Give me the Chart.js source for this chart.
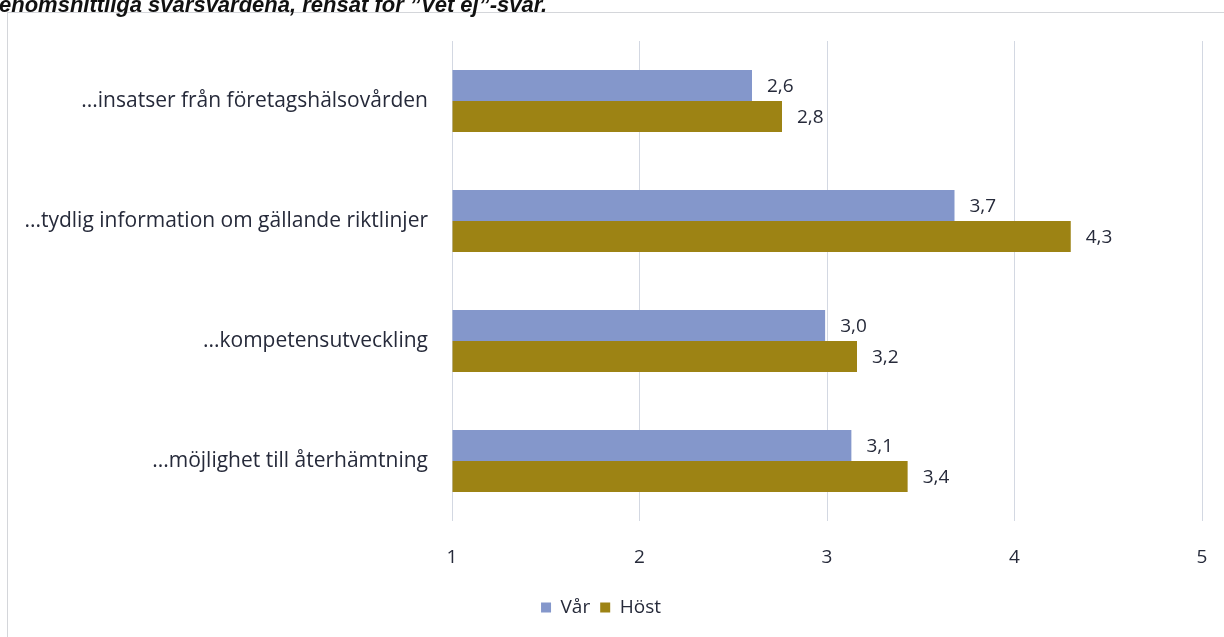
<!DOCTYPE html>
<html>
<head>
<meta charset="utf-8">
<script src="https://cdn.jsdelivr.net/npm/chart.js@4.4.1/dist/chart.umd.min.js"></script>
<style>
  html, body { margin: 0; padding: 0; background: #ffffff; }
  #wrap { position: relative; width: 1224px; height: 637px; overflow: hidden; }
</style>
</head>
<body>
<div id="wrap"><canvas id="chart" width="1224" height="637"></canvas></div>
<script>
// ========== DATA ==========
var categories = [
  "...insatser från företagshälsovården",
  "...tydlig information om gällande riktlinjer",
  "...kompetensutveckling",
  "...möjlighet till återhämtning"
];
var seriesNames = ["Vår", "Höst"];
var varValues = [2.6, 3.68, 2.99, 3.13];
var hostValues = [2.76, 4.3, 3.16, 3.43];
var xTicks = [1, 2, 3, 4, 5];
var titleText = "enomsnittliga svarsvärdena, rensat för ”Vet ej”-svar.";

var textColor = "#262a3a";
var fontFamily = "'Open Sans', Lato, sans-serif";

// ========== PLUGINS ==========
var framePlugin = {
  id: "frame",
  beforeDraw: function (chart) {
    var ctx = chart.ctx;
    ctx.save();
    ctx.fillStyle = "#ffffff";
    ctx.fillRect(0, 0, chart.width, chart.height);
    ctx.strokeStyle = "#d4d6da";
    ctx.lineWidth = 1;
    ctx.strokeRect(7.5, 12.5, 1400, 700);
    // cropped heading above the frame
    ctx.fillStyle = "#111111";
    ctx.font = "italic bold 22px 'Liberation Sans', Arial, sans-serif";
    ctx.textBaseline = "alphabetic";
    ctx.fillText(titleText, -1, 12);
    ctx.restore();
  }
};

var valueLabels = {
  id: "valueLabels",
  afterDatasetsDraw: function (chart) {
    var ctx = chart.ctx;
    ctx.save();
    ctx.font = "19px " + fontFamily;
    ctx.fillStyle = textColor;
    ctx.textAlign = "left";
    ctx.textBaseline = "middle";
    chart.data.datasets.forEach(function (ds, i) {
      chart.getDatasetMeta(i).data.forEach(function (bar, j) {
        var txt = ds.data[j].toFixed(1).replace(".", ",");
        ctx.fillText(txt, bar.x + 15, bar.y + 1);
      });
    });
    ctx.restore();
  }
};

// ========== CHART ==========
new Chart(document.getElementById("chart"), {
  type: "bar",
  data: {
    labels: categories,
    datasets: [
      {
        label: seriesNames[0],
        data: varValues,
        backgroundColor: "#8497cb",
        barPercentage: 1,
        categoryPercentage: 0.515,
        base: 1
      },
      {
        label: seriesNames[1],
        data: hostValues,
        backgroundColor: "#9d8314",
        barPercentage: 1,
        categoryPercentage: 0.515,
        base: 1
      }
    ]
  },
  options: {
    indexAxis: "y",
    responsive: false,
    animation: false,
    layout: { padding: { top: 41, right: 22, left: 0, bottom: 10 } },
    plugins: {
      legend: {
        position: "bottom",
        labels: {
          boxWidth: 10,
          boxHeight: 10,
          padding: 10,
          color: textColor,
          font: { family: fontFamily, size: 19 }
        }
      },
      tooltip: { enabled: false }
    },
    scales: {
      x: {
        min: 1,
        max: 5,
        afterBuildTicks: function (axis) {
          axis.ticks = xTicks.map(function (v) { return { value: v }; });
        },
        afterFit: function (axis) {
          axis.height = 67;
          axis.paddingLeft = 0;
          axis.paddingRight = 0;
        },
        grid: { color: "#d3d8e2", drawTicks: false },
        border: { display: false },
        ticks: {
          padding: 25,
          color: textColor,
          font: { family: fontFamily, size: 19 }
        }
      },
      y: {
        afterFit: function (axis) { axis.width = 452; },
        grid: { display: false },
        border: { display: false },
        ticks: {
          padding: 16,
          color: textColor,
          font: { family: fontFamily, size: 21 }
        }
      }
    }
  },
  plugins: [framePlugin, valueLabels]
});
</script>
</body>
</html>
